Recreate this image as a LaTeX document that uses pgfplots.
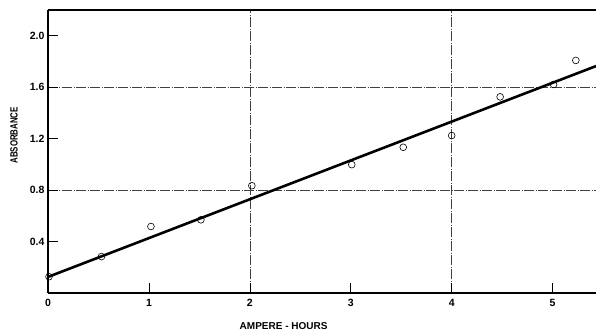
\documentclass[border=0pt]{standalone}
\usepackage{pgfplots}
\pgfplotsset{compat=1.18}
\usepackage{fontspec}
\setmainfont{Liberation Sans}
\newfontfamily\narrowfont[FakeStretch=0.75]{Liberation Sans}
\begin{document}
\begin{tikzpicture}
\begin{axis}[
  scale only axis,
  width=548pt, height=283pt,
  xmin=0, xmax=5.43, ymin=0, ymax=2.2,
  axis lines*=left,
  axis line style={line width=1.4pt},
  xtick={0,1,2,3,4,5},
  xticklabels={0,1,2,3,4,5},
  ytick={0.4,0.8,1.2,1.6,2.0},
  yticklabels={0.4,0.8,1.2,1.6,2.0},
  tick align=inside,
  major tick length=10pt,
  tick style={black, line width=0.6pt},
  every tick label/.append style={font=\bfseries\fontsize{10.5}{11}\selectfont},
  xticklabel style={yshift=-3pt},
  yticklabel style={xshift=0pt},
  extra x ticks={2,4},
  extra x tick labels={},
  extra y ticks={0.8,1.6},
  extra y tick labels={},
  extra tick style={grid=major, major grid style={black!75, line width=0.5pt, dash pattern=on 10pt off 1.5pt on 1pt off 1.5pt}},
  xlabel={AMPERE - HOURS},
  ylabel={ABSORBANCE},
  xlabel style={font=\bfseries\fontsize{10}{11}\selectfont, at={(axis description cs:0.43,0)}, anchor=center, yshift=-33pt},
  ylabel style={font=\narrowfont\bfseries\fontsize{10.5}{11}\selectfont, at={(axis description cs:-0.062,0.557)}, anchor=center},
  clip=false,
]
\addplot[black, line width=2.6pt, no marks] coordinates {(0,0.125) (5.43,1.764)};
\addplot[only marks, mark=o, mark size=3.4pt, mark options={black, fill=white, line width=0.6pt}] coordinates {
  (0.01,0.127) (0.53,0.283) (1.02,0.517) (1.515,0.569) (2.02,0.834)
  (3.01,0.998) (3.52,1.133) (4.0,1.224) (4.48,1.525) (5.01,1.621) (5.23,1.808)
};
\draw[line width=1.4pt] (rel axis cs:0,1) -- (rel axis cs:1,1);
\end{axis}
\pgfresetboundingbox
\path[use as bounding box] ([shift={(-48pt,-40pt)}]current axis.south west) rectangle ([shift={(0pt,10pt)}]current axis.north east);
\end{tikzpicture}
\end{document}
